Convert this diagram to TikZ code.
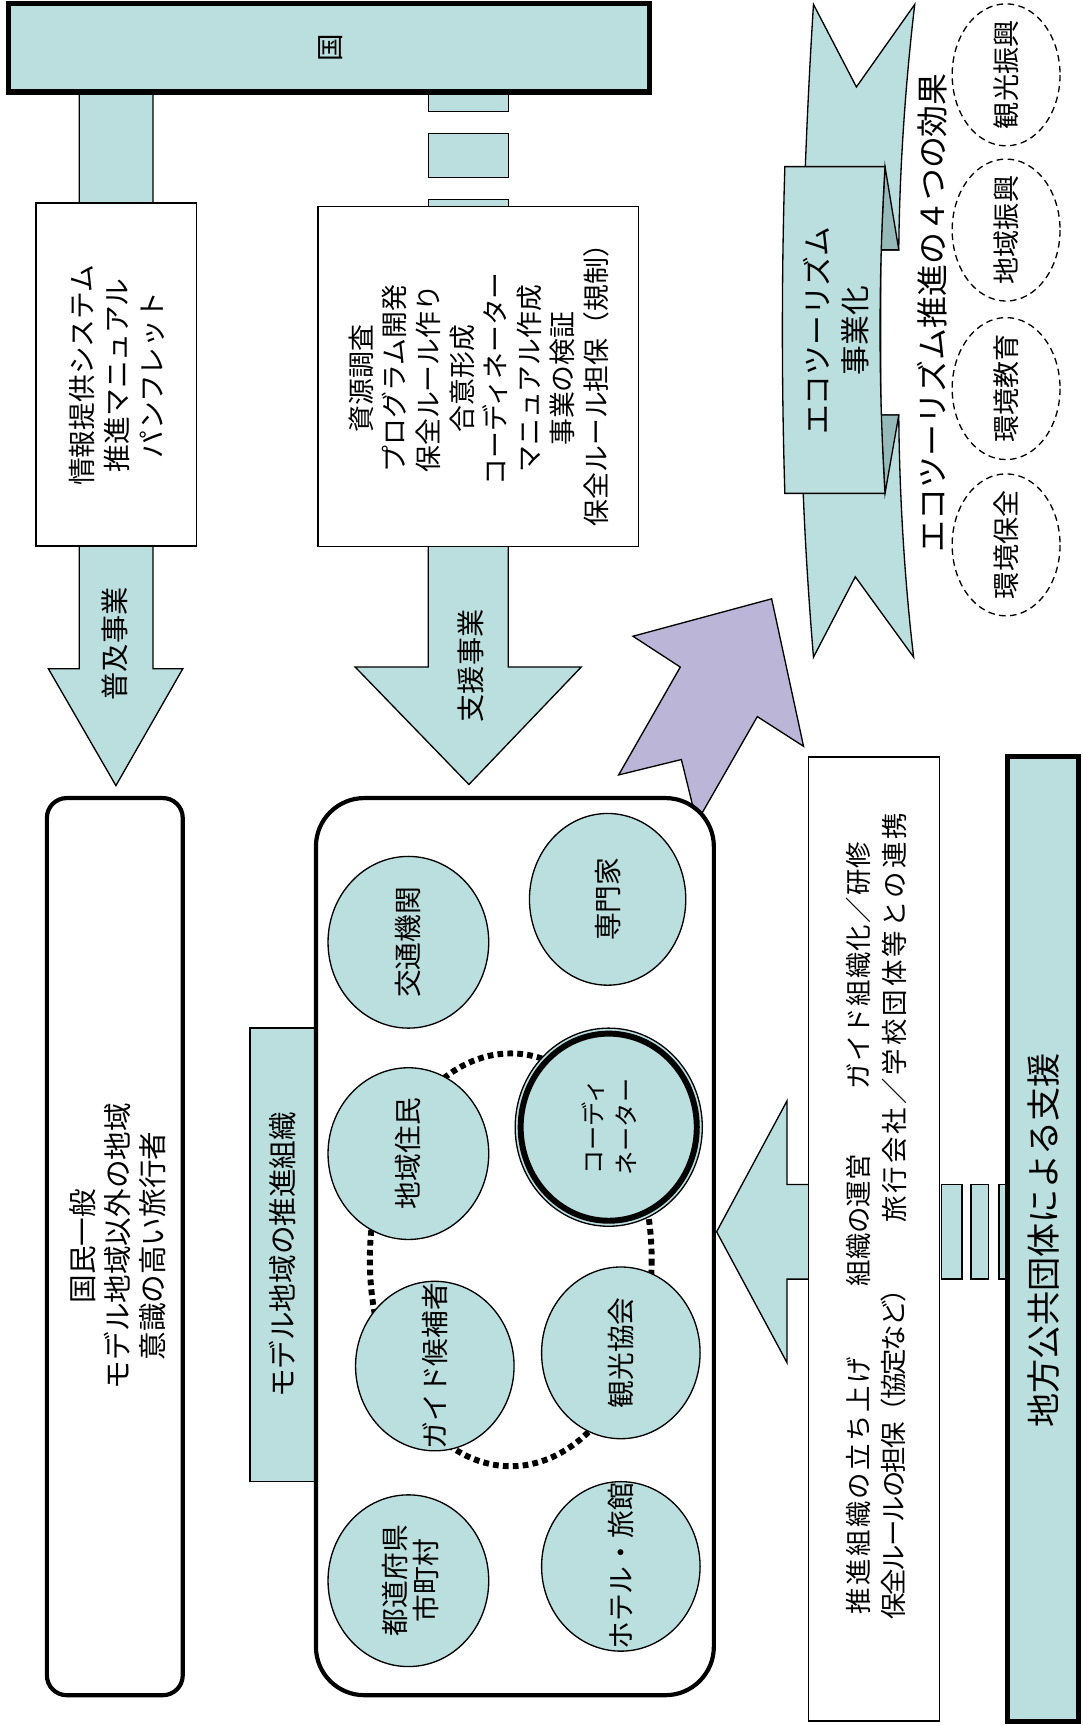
\documentclass[tikz,border=0pt]{standalone}
\usepackage{fontspec}
\setmainfont{Noto Sans CJK JP}
\usetikzlibrary{shapes.geometric}
\definecolor{teal1}{RGB}{187,222,222}
\definecolor{tealdk}{RGB}{150,186,186}
\definecolor{purp}{RGB}{187,182,216}
\def\myls#1#2{\def\mylsk{#1}\mylsi#2\relax}
\def\mylsi#1{\ifx\relax#1\else#1\kern\mylsk\relax\expandafter\mylsi\fi}
\tikzset{
  thinb/.style={draw=black, line width=0.6pt},
  tealbox/.style={thinb, fill=teal1},
  rtxt/.style={rotate=90, align=center, inner sep=0pt},
  etxt/.style={rtxt, font=\fontsize{12.6}{14}\selectfont},
  ftxt/.style={rtxt, font=\fontsize{12.3}{14}\selectfont},
  btxt/.style={rtxt, anchor=west, font=\fontsize{12}{14}\selectfont},
  effcirc/.style={draw=black, line width=0.6pt, dash pattern=on 3pt off 2pt},
}
\begin{document}
\begin{tikzpicture}[x=0.5pt,y=-0.5pt,line join=miter]
\useasboundingbox (0,0) rectangle (983,1568);

% ---- left column arrow (普及事業)
\draw[tealbox] (72,80) -- (72,607.6) -- (44,607.6) -- (105.3,713.7) -- (166,607.6) -- (139,607.6) -- (139,80) -- cycle;
% ---- middle column arrow (支援事業)
\draw[tealbox] (389,490) -- (389,606) -- (322.7,606) -- (426,712.7) -- (528,606) -- (461.7,606) -- (461.7,490) -- cycle;
\draw[tealbox] (389,80) rectangle (461.7,101);
\draw[tealbox] (389,121) rectangle (461.7,161);
\draw[tealbox] (389,181) rectangle (461.7,192);

% ---- 国 bar
\draw[tealbox, line width=2.4pt] (7.5,3.5) rectangle (590,83.6);
\node[rtxt, font=\fontsize{12.5}{15}\selectfont] (kuni) at (300,43) {国};

% ---- boxes
\draw[thinb, fill=white] (32.6,184.5) rectangle (178.6,496);
\node[rtxt, font=\fontsize{12.6}{16}\selectfont] (b1) at (106,341) {情報提供システム\\推進マニュアル\\パンフレット};
\draw[thinb, fill=white] (289,187.8) rectangle (580,496.7);
\node[rtxt, font=\fontsize{12.2}{15.25}\selectfont] (b2) at (435,344) {資源調査\\プログラム開発\\保全ルール作り\\合意形成\\コーディネーター\\マニュアル作成\\事業の検証\\保全ルール担保（規制）};

\node[rtxt, font=\fontsize{12.8}{15}\selectfont] (fukyu) at (104,585) {普及事業};
\node[rtxt, font=\fontsize{12.8}{15}\selectfont] (shien) at (428,605) {支援事業};

% ---- left rounded box
\draw[line width=1.9pt, fill=white, rounded corners=9pt] (42.6,725) rectangle (166,1540);
\node[rtxt, font=\fontsize{13}{16}\selectfont] (kokumin) at (107,1132) {国民一般\\モデル地域以外の地域\\意識の高い旅行者};

% ---- tab
\draw[tealbox] (227,934) rectangle (287,1346);
\node[rtxt, font=\fontsize{13}{15}\selectfont] (tab) at (257,1140) {モデル地域の推進組織};

% ---- purple arrow
\draw[thinb, fill=purp] (701,544) -- (730,678) -- (688,651) -- (633,747) -- (619,690) -- (562,704) -- (618,606) -- (575,578) -- cycle;

% ---- left-pointing arrow
\draw[tealbox] (760,1076) -- (715,1076) -- (715,1000) -- (651,1119) -- (715,1238) -- (715,1162) -- (760,1162) -- cycle;

% ---- middle rounded box
\draw[line width=1.9pt, fill=white, rounded corners=22pt] (287,725) rectangle (648.5,1540);

% dotted ring
\draw[line width=2.7pt, dash pattern=on 2.6pt off 1.9pt] (464,1144.5) ellipse [x radius=128, y radius=187.5];

% ellipses
\draw[tealbox] (371,856) ellipse [x radius=73, y radius=78];
\node[etxt] (kotsu) at (371,856) {交通機関};
\draw[tealbox] (552,817) ellipse [x radius=71, y radius=78];
\node[etxt] (senmon) at (552,817) {専門家};
\draw[tealbox] (371,1048) ellipse [x radius=73, y radius=78];
\node[etxt] (jumin) at (371,1048) {地域住民};
\draw[tealbox] (395,1241) ellipse [x radius=72, y radius=77];
\node[etxt] (guide) at (395,1241) {ガイド候補者};
\draw[tealbox] (564,1229) ellipse [x radius=72, y radius=78];
\node[etxt] (kanko) at (564,1229) {観光協会};
\draw[tealbox] (371,1436) ellipse [x radius=73, y radius=78];
\node[rtxt, font=\fontsize{12.6}{14}\selectfont] (todo) at (373,1436) {都道府県\\市町村};
\draw[tealbox] (564,1423) ellipse [x radius=72, y radius=77];
\node[etxt] (hotel) at (564,1423) {ホテル・旅館};
\draw[tealbox] (553,1024) ellipse [x radius=85, y radius=90];
\draw[line width=2.7pt] (553,1024) ellipse [x radius=80, y radius=85];
\node[rtxt, font=\fontsize{11}{15}\selectfont] (coord) at (553,1024) {コーディ\\ネーター};

% ---- ribbon
\draw[tealbox] (739,4) -- (778,79) -- (831,4) .. controls (822,80) and (817,160) .. (816.5,227) -- (800,227) -- (800,377) -- (816.5,377) .. controls (817,450) and (822,530) .. (830,597) -- (777,524) -- (739,597) .. controls (731,500) and (726,400) .. (728,300) .. controls (729,200) and (733,100) .. (739,4) -- cycle;
\draw[thinb, fill=tealdk] (804,151.4) -- (816.5,227) -- (800,227) -- cycle;
\draw[thinb, fill=tealdk] (800,377) -- (816.5,377) -- (804,448.2) -- cycle;
\draw[tealbox] (713,151.4) -- (804,151.4) .. controls (798,250) and (798,350) .. (804,448.2) -- (713,448.2) .. controls (710,350) and (710,250) .. (713,151.4) -- cycle;
\node[rtxt, font=\fontsize{13.5}{17.4}\selectfont] (eco) at (759.5,300.5) {エコツーリズム\\事業化};

\node[rtxt, font=\fontsize{14.5}{16}\selectfont] (eff) at (846.5,284) {エコツーリズム推進の４つの効果};

\draw[effcirc] (914,68) ellipse [x radius=49, y radius=64.5];
\node[ftxt] (e4) at (914,68) {観光振興};
\draw[effcirc] (914,209) ellipse [x radius=49, y radius=64.5];
\node[ftxt] (e3) at (914,209) {地域振興};
\draw[effcirc] (914,353) ellipse [x radius=49, y radius=64.5];
\node[ftxt] (e2) at (914,353) {環境教育};
\draw[effcirc] (914,495) ellipse [x radius=49, y radius=64.5];
\node[ftxt] (e1) at (914,495) {環境保全};

% ---- bottom-right box
\draw[thinb, fill=white] (734.5,687.6) rectangle (853.5,1563.5);
\node[btxt] (t1) at (780,1467) {\myls{1.1pt}{推進組織の立ち上げ}};
\node[btxt] (t2) at (780,1169) {\myls{0pt}{組織の運営}};
\node[btxt] (t3) at (780,990) {\myls{0.56pt}{ガイド組織化／研修}};
\node[btxt] (t4) at (812,1472) {\myls{-0.9pt}{保全ルールの担保（協定など）}};
\node[btxt] (t5) at (813,1111) {\myls{1.4pt}{旅行会社／学校団体等との連携}};

\draw[tealbox] (855.5,1076) rectangle (874,1162);
\draw[tealbox] (882,1076) rectangle (898,1162);
\draw[tealbox] (907.6,1076) rectangle (914.6,1162);
\draw[tealbox, line width=2.4pt] (915,687) rectangle (980,1564);
\node[rtxt, font=\fontsize{15.5}{17}\selectfont] (chiho) at (948,1127) {地方公共団体による支援};
\end{tikzpicture}
\end{document}
